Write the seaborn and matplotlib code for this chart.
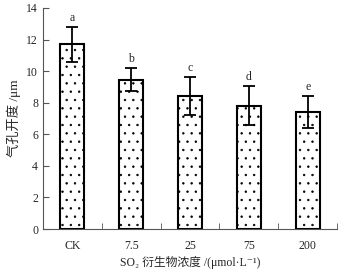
import numpy as np
import pandas as pd
import matplotlib
matplotlib.use("Agg")
import matplotlib.pyplot as plt
import seaborn as sns

# values
groups = ['CK', '7.5', '25', '75', '200']
aperture = [11.7, 9.45, 8.4, 7.8, 7.4]
sd = [1.1, 0.72, 1.2, 1.23, 1.0]
letters = ['a', 'b', 'c', 'd', 'e']

sns.set_style("ticks")
plt.rcParams['font.family'] = ['Liberation Serif', 'Noto Sans CJK SC', 'DejaVu Serif']
plt.rcParams['hatch.linewidth'] = 0.5

df = pd.DataFrame({'group': groups, 'aperture': aperture})

fig = plt.figure(figsize=(3.44, 2.75), dpi=100)
ax = fig.add_axes([0.125, 0.167, 0.855, 0.804])

sns.barplot(data=df, x='group', y='aperture', color='white', edgecolor='black',
            linewidth=1.5, width=0.41, hatch='..', errorbar=None, ax=ax)

x = np.arange(len(groups))
ax.errorbar(x, aperture, yerr=sd, fmt='none', ecolor='black', elinewidth=1.3,
            capsize=4.5, capthick=1.3)

for xi, v, s, lab in zip(x, aperture, sd, letters):
    ax.text(xi, v + s + 0.2, lab, ha='center', va='bottom', fontsize=8.5)

ax.set_xlim(-0.5, len(groups) - 0.5)
ax.set_ylim(0, 14)
ax.set_yticks(range(0, 15, 2))
ax.set_xticks(x)
ax.set_xticklabels(groups)
ax.set_xticks(np.arange(len(groups)) + 0.5, minor=True)
ax.tick_params(axis='x', which='major', length=0, pad=8, labelsize=8.5)
ax.tick_params(axis='x', which='minor', direction='in', length=4, color='#555555')
ax.tick_params(axis='y', direction='in', length=4, labelsize=8.5, color='#555555')
for side in ['top', 'right']:
    ax.spines[side].set_visible(False)
for side in ['left', 'bottom']:
    ax.spines[side].set_color('#555555')
    ax.spines[side].set_linewidth(0.8)

ax.set_xlabel('SO₂ 衍生物浓度 /(μmol·L⁻¹)', fontsize=8.5, labelpad=3)
ax.set_ylabel('气孔开度 /μm', fontsize=9.5, labelpad=4)

fig.savefig('out.png', dpi=100)
